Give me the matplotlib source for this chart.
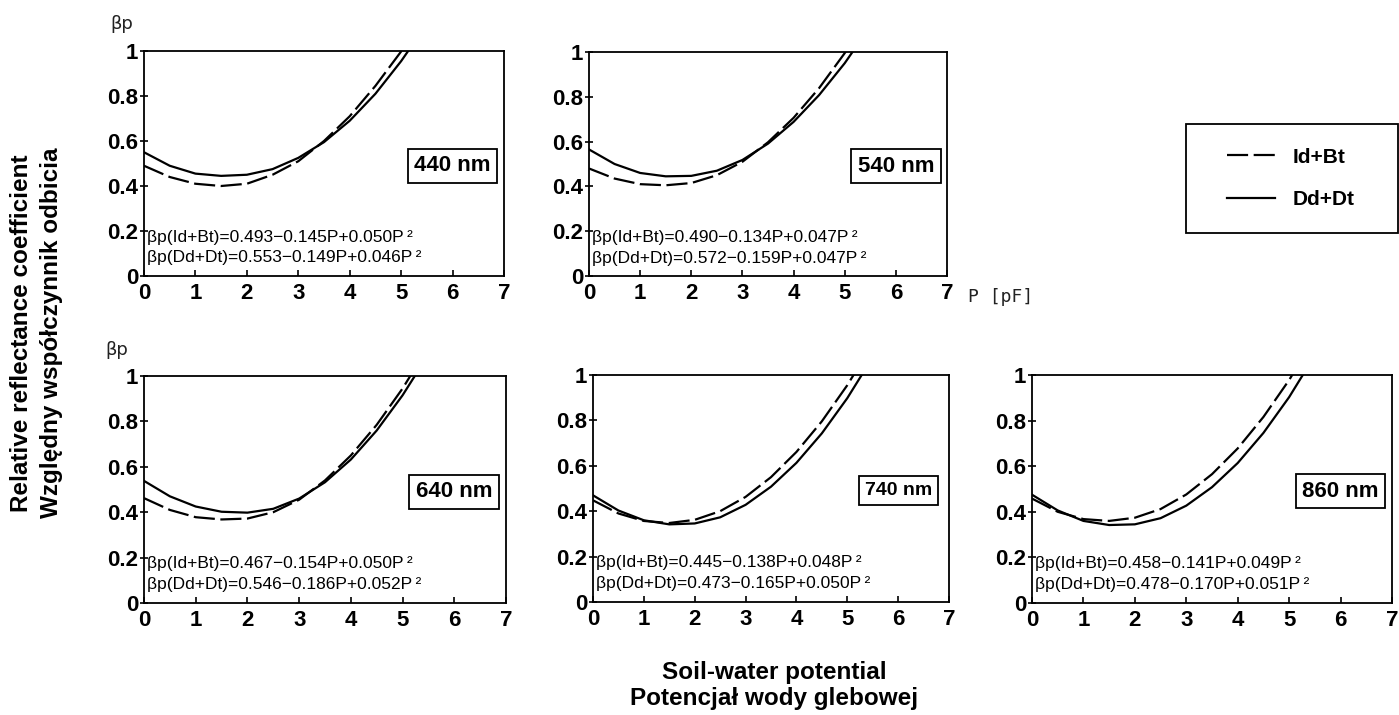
import numpy as np
import matplotlib
matplotlib.use("Agg")
import matplotlib.pyplot as plt
from matplotlib.lines import Line2D
from matplotlib.patches import Rectangle

plt.rcParams['font.family'] = ['Liberation Sans', 'DejaVu Sans']

# soil-water potential P [pF] where curves were read
P = [0, 0.5, 1.0, 1.5, 2.0, 2.5, 3.0, 3.5, 4.0, 4.5, 5.0, 5.5]

wavelengths = ["440 nm", "540 nm", "640 nm", "740 nm", "860 nm"]

# relative reflectance coefficient, Id+Bt (dashed) and Dd+Dt (solid)
id_bt_440 = [0.490, 0.440, 0.410, 0.400, 0.410, 0.450, 0.510, 0.600, 0.710, 0.845, 0.998, 1.190]
dd_dt_440 = [0.550, 0.490, 0.455, 0.445, 0.450, 0.475, 0.525, 0.595, 0.690, 0.810, 0.955, 1.120]
id_bt_540 = [0.480, 0.435, 0.410, 0.405, 0.415, 0.450, 0.510, 0.597, 0.706, 0.839, 0.995, 1.175]
dd_dt_540 = [0.565, 0.500, 0.460, 0.445, 0.447, 0.470, 0.518, 0.591, 0.688, 0.808, 0.950, 1.115]
id_bt_640 = [0.462, 0.410, 0.378, 0.368, 0.372, 0.400, 0.455, 0.540, 0.650, 0.785, 0.945, 1.130]
dd_dt_640 = [0.538, 0.470, 0.425, 0.402, 0.398, 0.415, 0.460, 0.532, 0.632, 0.760, 0.915, 1.095]
id_bt_740 = [0.448, 0.390, 0.357, 0.348, 0.362, 0.400, 0.463, 0.550, 0.661, 0.796, 0.955, 1.138]
dd_dt_740 = [0.470, 0.403, 0.360, 0.342, 0.346, 0.373, 0.428, 0.508, 0.613, 0.743, 0.898, 1.078]
id_bt_860 = [0.458, 0.400, 0.368, 0.360, 0.374, 0.412, 0.476, 0.565, 0.678, 0.816, 0.978, 1.165]
dd_dt_860 = [0.475, 0.406, 0.360, 0.342, 0.345, 0.372, 0.427, 0.508, 0.614, 0.746, 0.903, 1.086]

eq_id_bt = ["βp(Id+Bt)=0.493−0.145P+0.050P\u2009²", "βp(Id+Bt)=0.490−0.134P+0.047P\u2009²",
            "βp(Id+Bt)=0.467−0.154P+0.050P\u2009²", "βp(Id+Bt)=0.445−0.138P+0.048P\u2009²",
            "βp(Id+Bt)=0.458−0.141P+0.049P\u2009²"]
eq_dd_dt = ["βp(Dd+Dt)=0.553−0.149P+0.046P\u2009²", "βp(Dd+Dt)=0.572−0.159P+0.047P\u2009²",
            "βp(Dd+Dt)=0.546−0.186P+0.052P\u2009²", "βp(Dd+Dt)=0.473−0.165P+0.050P\u2009²",
            "βp(Dd+Dt)=0.478−0.170P+0.051P\u2009²"]

series_id = [id_bt_440, id_bt_540, id_bt_640, id_bt_740, id_bt_860]
series_dd = [dd_dt_440, dd_dt_540, dd_dt_640, dd_dt_740, dd_dt_860]

x_ticks = [0, 1, 2, 3, 4, 5, 6, 7]
y_ticks = [0, 0.2, 0.4, 0.6, 0.8, 1.0]
y_tick_labels = ["0", "0.2", "0.4", "0.6", "0.8", "1"]

W, H = 1399, 715
fig = plt.figure(figsize=(W / 100, H / 100), dpi=100)

# panel boxes in pixels: left, top, right, bottom
boxes = [(144, 51, 504, 276), (589, 52, 947, 276),
         (144, 376, 506, 603), (593, 375, 949, 602), (1032, 375, 1392, 603)]

DASH = (9.5, 2.5)
LW = 1.6
axes = []
for i, (l, t, r, b) in enumerate(boxes):
    ax = fig.add_axes([l / W, 1 - b / H, (r - l) / W, (b - t) / H])
    axes.append(ax)
    ax.plot(P, series_id[i], color='black', lw=LW, dashes=DASH)
    ax.plot(P, series_dd[i], color='black', lw=LW)
    ax.set_xlim(0, 7)
    ax.set_ylim(0, 1)
    ax.set_xticks(x_ticks)
    ax.set_xticklabels([str(v) for v in x_ticks])
    ax.set_yticks(y_ticks)
    ax.set_yticklabels(y_tick_labels)
    for s in ax.spines.values():
        s.set_linewidth(1.3)
    ax.tick_params(axis='x', direction='in', length=4, width=1.2, pad=5, labelsize=16)
    ax.tick_params(axis='y', direction='inout', length=6, width=1.2, pad=1, labelsize=16)
    for lab in ax.get_xticklabels() + ax.get_yticklabels():
        lab.set_fontweight('bold')
    ax.text(0.06, 0.172, eq_id_bt[i], fontsize=12.5, va='center', ha='left')
    ax.text(0.06, 0.08, eq_dd_dt[i], fontsize=12.5, va='center', ha='left')
    small = wavelengths[i] == "740 nm"
    ax.text(6.0, 0.49, wavelengths[i], fontsize=14 if small else 16, fontweight='bold',
            ha='center', va='center',
            bbox=dict(boxstyle='square,pad=0.3', fc='white', ec='black', lw=1.3))

axes[0].text(-0.094, 1.12, "βp", transform=axes[0].transAxes, fontsize=13,
             family='DejaVu Sans', ha='left', va='center', color='#222222')
axes[2].text(-0.108, 1.115, "βp", transform=axes[2].transAxes, fontsize=13,
             family='DejaVu Sans', ha='left', va='center', color='#222222')
axes[1].text(1.059, -0.094, "P [pF]", transform=axes[1].transAxes, fontsize=13,
             family='DejaVu Sans Mono', ha='left', va='center', color='#222222')

# axis titles
fig.text(22 / W, 1 - 333 / H, "Relative reflectance coefficient", rotation=90,
         fontsize=17.5, fontweight='bold', ha='center', va='center')
fig.text(52 / W, 1 - 333 / H, "Względny współczynnik odbicia", rotation=90,
         fontsize=17.5, fontweight='bold', ha='center', va='center')
fig.text(774 / W, 1 - 672 / H, "Soil-water potential",
         fontsize=17.5, fontweight='bold', ha='center', va='center')
fig.text(774 / W, 1 - 699 / H, "Potencjał wody glebowej",
         fontsize=17.5, fontweight='bold', ha='center', va='center')

# legend
fig.add_artist(Rectangle((1186 / W, 1 - 233 / H), 212 / W, 109 / H,
                         transform=fig.transFigure, fill=False, ec='black', lw=1.3))
handles = [Line2D([], [], color='black', lw=LW, dashes=DASH),
           Line2D([], [], color='black', lw=LW)]
leg = fig.legend(handles, ["Id+Bt", "Dd+Dt"], loc='center left',
                 bbox_to_anchor=(1227 / W, 1 - 178.5 / H), frameon=False,
                 borderpad=0, borderaxespad=0, handlelength=2.3, handletextpad=0.85,
                 labelspacing=1.15, prop={'size': 15, 'weight': 'bold'})

fig.savefig("out.png", dpi=100)
